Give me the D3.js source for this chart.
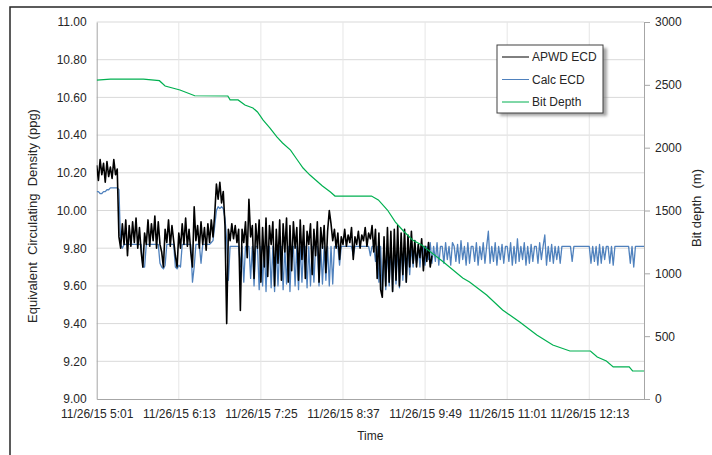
<!DOCTYPE html>
<html><head><meta charset="utf-8">
<script src="https://cdn.jsdelivr.net/npm/d3@7"></script>
<style>
body{margin:0;background:#fff;}
text{font-family:"Liberation Sans",Arial,sans-serif;}
</style>
</head><body>
<svg id="c" width="712" height="455"></svg>
<script>
// ---------------- DATA ----------------
// x-axis tick labels (every 72 minutes from 5:01)
const timeTickLabels = ["11/26/15 5:01","11/26/15 6:13","11/26/15 7:25","11/26/15 8:37","11/26/15 9:49","11/26/15 11:01","11/26/15 12:13"];
const ecdTicks = [9.00,9.20,9.40,9.60,9.80,10.00,10.20,10.40,10.60,10.80,11.00];
const depthTicks = [0,500,1000,1500,2000,2500,3000];
const seriesNames = ["APWD ECD","Calc ECD","Bit Depth"];

// APWD ECD (ppg), one sample every 1.5 min starting 5:01
const apwdEcd = [
10.24,10.16,10.27,10.19,10.25,10.15,10.26,10.18,10.23,10.17,10.27,10.19,10.22,
9.86,
9.80,9.93,9.82,9.95,9.76,9.92,9.81,9.94,9.83,9.96,
9.80,9.91,9.78,9.70,9.88,9.82,9.95,9.81,9.93,9.84,
9.97,9.80,9.94,9.82,9.78,9.70,9.90,9.83,9.95,9.81,
9.92,9.84,9.76,9.70,9.88,9.80,9.93,9.82,9.96,9.81,
9.90,9.78,9.70,10.02,9.84,9.92,9.80,9.94,9.82,9.91,
9.79,9.93,9.83,9.95,9.86,
9.98,10.14,10.06,10.15,10.04,10.10,9.92,9.40,9.90,9.84,9.93,9.85,9.92,9.83,9.90,9.47,
9.90,9.83,9.94,9.75,10.06,9.86,9.92,9.64,9.93,9.80,
9.95,9.62,9.91,9.70,9.96,9.65,9.92,9.82,9.94,9.60,
9.90,9.72,9.95,9.63,9.93,9.78,9.96,9.62,9.92,9.68,
9.94,9.80,9.91,9.63,9.95,9.74,9.92,9.64,9.89,9.82,
9.93,9.66,9.90,9.76,9.94,9.62,9.91,9.80,9.92,9.67,
9.89,10.00,9.93,
9.84,9.90,9.80,9.88,9.74,9.86,9.82,9.90,9.81,9.87,
9.83,9.91,9.74,9.86,9.82,9.89,9.80,9.87,9.84,9.91,
9.81,9.88,9.85,9.92,
9.78,9.90,9.64,9.88,9.58,9.54,9.86,9.60,9.91,9.62,
9.89,9.57,9.90,9.63,9.92,9.60,9.88,9.66,9.90,9.62,
9.87,9.70,9.89,
9.72,9.84,9.70,9.82,9.75,9.85,9.68,9.81,9.73,9.83,9.70,9.76
];

// Calc ECD (ppg), one sample every 1.5 min starting 5:01
const calcEcd = [
10.10,10.10,10.09,10.09,10.10,10.10,10.11,10.11,10.12,10.12,10.12,10.12,10.12,10.11,
9.82,9.80,9.82,9.82,9.82,9.82,9.82,9.82,9.82,9.82,9.82,9.82,9.82,9.70,9.70,
9.82,9.82,9.82,9.82,9.82,9.82,9.82,9.82,9.72,9.70,9.69,9.71,
9.82,9.82,9.82,9.82,9.82,9.70,9.69,9.71,9.70,
9.82,9.82,9.82,9.82,9.82,9.82,9.62,9.70,9.82,9.82,9.82,9.72,
9.82,9.82,9.82,9.82,9.82,
9.83,9.84,9.92,10.00,10.02,10.01,10.02,10.01,9.96,9.84,9.63,
9.81,9.81,9.81,9.81,9.81,9.81,9.70,9.81,9.62,9.81,9.81,9.81,9.64,9.81,9.60,9.81,9.81,
9.58,9.81,9.60,9.81,9.57,9.81,9.81,9.59,9.81,9.57,9.81,9.60,9.81,9.81,9.58,9.81,9.61,
9.81,9.57,9.81,9.81,9.60,9.81,9.58,9.81,9.62,9.81,9.81,9.59,9.81,9.60,9.81,9.62,9.81,
9.81,9.60,9.81,9.61,9.81,9.63,9.81,9.60,9.81,
9.61,9.81,9.81,9.81,9.71,9.81,9.81,9.81,9.81,9.81,9.81,9.81,9.76,9.81,9.81,9.81,9.81,
9.81,9.81,9.81,9.81,9.81,9.76,9.81,
9.81,9.73,9.81,9.62,9.81,9.56,9.81,9.58,9.81,9.60,9.81,9.57,9.81,9.61,9.81,9.59,9.81,
9.63,9.81,9.62,9.81,9.66,9.81,9.70,9.81,9.72,9.81,9.70,9.81,
9.81,9.71,9.81,9.74,9.83,9.72,9.81,9.73,9.83,9.71,
9.81,9.81,9.72,9.83,9.74,9.81,9.71,9.83,9.81,9.73,
9.82,9.72,9.84,9.74,9.81,9.71,9.83,9.72,9.81,9.81,
9.73,9.83,9.71,9.81,9.74,9.83,9.72,9.81,9.89,9.72,
9.81,9.73,9.83,9.71,9.81,9.74,9.82,9.72,9.81,9.81,
9.73,9.83,9.71,9.81,9.72,9.85,9.73,9.81,9.74,9.83,
9.71,9.81,9.72,9.82,9.73,9.81,9.81,9.72,9.83,9.74,
9.81,9.87,9.71,9.81,9.73,9.82,9.72,9.81,9.74,9.81,
9.72,9.81,
9.81,9.81,9.81,9.81,9.81,
9.73,
9.81,9.81,9.81,9.81,9.81,9.81,9.81,9.81,9.81,9.81,
9.72,9.81,9.73,9.81,9.71,9.82,9.72,9.81,9.74,9.81,
9.81,9.72,9.81,9.71,9.81,
9.81,9.81,9.81,9.81,9.81,9.81,9.81,9.81,
9.72,9.81,9.70,9.81,
9.81,9.81,9.81,9.81,9.81
];

// Bit depth (m) at minutes after 5:01
const bitDepthMinutes = [0,12,41,55,60,73,86,115,117,124,130,137,141,146,152,158,163,170,176,181,187,193,198,205,209,241,247,255,262,269,277,285,303,321,327,342,356,371,386,400,415,433,439,447,453,467,470,480];
const bitDepth = [2538,2546,2546,2533,2491,2459,2413,2411,2380,2380,2339,2316,2284,2220,2156,2085,2037,1981,1902,1838,1782,1735,1695,1647,1615,1615,1584,1504,1408,1337,1265,1225,1098,963,931,828,708,613,509,430,382,382,334,302,255,255,223,223];

const sampleMinutes = 1.5;
const startTime = new Date(2015,10,26,5,1);
const endTime = new Date(2015,10,26,13,1);
const tickStepMinutes = 72;

// ---------------- DRAW ----------------
const svg = d3.select("#c");
const M = {l:96.7, r:644, t:22, b:399};
const addMin = m => new Date(startTime.getTime() + m*60000);

const x = d3.scaleTime().domain([startTime, endTime]).range([M.l, M.r]);
const yL = d3.scaleLinear().domain([9, 11]).range([M.b, M.t]);
const yR = d3.scaleLinear().domain([0, 3000]).range([M.b, M.t]);
const tickTimes = timeTickLabels.map((d,i)=>addMin(i*tickStepMinutes));

// outer border
svg.append("rect").attr("x",10).attr("y",7).attr("width",720).attr("height",470)
  .attr("fill","#fff").attr("stroke","#262626").attr("stroke-width",1.5);

// gridlines
const grid = svg.append("g");
grid.selectAll("line.h").data(ecdTicks.slice(1)).join("line")
  .attr("x1",M.l).attr("x2",M.r).attr("y1",d=>yL(d)).attr("y2",d=>yL(d))
  .attr("stroke","#d9d9d9").attr("stroke-width",1);
grid.selectAll("line.v").data(tickTimes.slice(1)).join("line")
  .attr("x1",d=>x(d)).attr("x2",d=>x(d)).attr("y1",M.t).attr("y2",M.b)
  .attr("stroke","#e6e6e6").attr("stroke-width",1);

// axes
const fontColor = "#262626";
const axL = svg.append("g").attr("transform",`translate(${M.l},0)`)
  .call(d3.axisLeft(yL).tickValues(ecdTicks).tickFormat(d3.format(".2f")).tickSize(0).tickPadding(10));
const axR = svg.append("g").attr("transform",`translate(${M.r},0)`)
  .call(d3.axisRight(yR).tickValues(depthTicks).tickFormat(d3.format("d")).tickSize(6).tickPadding(5));
const axB = svg.append("g").attr("transform",`translate(0,${M.b})`)
  .call(d3.axisBottom(x).tickValues(tickTimes).tickFormat((d,i)=>timeTickLabels[i]).tickSize(0).tickPadding(10));
[axL,axR,axB].forEach(a=>{
  a.select(".domain").attr("stroke","#a6a6a6");
  a.selectAll(".tick line").attr("stroke","#a6a6a6");
  a.selectAll("text").attr("font-size",12).attr("fill",fontColor).attr("font-family","Liberation Sans, Arial, sans-serif");
});

// clip
svg.append("clipPath").attr("id","pc").append("rect")
  .attr("x",M.l).attr("y",M.t).attr("width",M.r-M.l).attr("height",M.b-M.t);
const plot = svg.append("g").attr("clip-path","url(#pc)");

const colors = {apwd:"#000000", calc:"#4f81bd", depth:"#00b050"};

const lineL = d3.line().x(d=>x(d.t)).y(d=>yL(d.v));
const lineR = d3.line().x(d=>x(d.t)).y(d=>yR(d.v));

const apwdPts = apwdEcd.map((v,i)=>({t:addMin(i*sampleMinutes), v}));
const calcPts = calcEcd.map((v,i)=>({t:addMin(i*sampleMinutes), v}));
const depthPts = bitDepth.map((v,i)=>({t:addMin(bitDepthMinutes[i]), v}));

plot.append("path").attr("d",lineL(calcPts)).attr("fill","none")
  .attr("stroke",colors.calc).attr("stroke-width",1.3).attr("stroke-linejoin","round");
plot.append("path").attr("d",lineL(apwdPts)).attr("fill","none")
  .attr("stroke",colors.apwd).attr("stroke-width",1.6).attr("stroke-linejoin","round");
plot.append("path").attr("d",lineR(depthPts)).attr("fill","none")
  .attr("stroke",colors.depth).attr("stroke-width",1.2);

// axis titles
svg.append("text").attr("transform",`translate(37,216) rotate(-90)`)
  .attr("text-anchor","middle").attr("font-size",13).attr("fill",fontColor)
  .style("white-space","pre").text("Equivalent  Circulating  Density (ppg)");
svg.append("text").attr("transform",`translate(701,208) rotate(-90)`)
  .attr("text-anchor","middle").attr("font-size",13).attr("fill",fontColor)
  .style("white-space","pre").text("Bit depth  (m)");
svg.append("text").attr("x",(M.l+M.r)/2).attr("y",440)
  .attr("text-anchor","middle").attr("font-size",12).attr("fill",fontColor).text("Time");

// legend
const defs = svg.append("defs");
const f = defs.append("filter").attr("id","sh").attr("x","-20%").attr("y","-20%").attr("width","150%").attr("height","150%");
f.append("feGaussianBlur").attr("stdDeviation",1.5);
const lg = svg.append("g");
lg.append("rect").attr("x",500).attr("y",48).attr("width",107).attr("height",68)
  .attr("fill","#808080").attr("opacity",0.7).attr("filter","url(#sh)");
lg.append("rect").attr("x",497).attr("y",45).attr("width",106).attr("height",68)
  .attr("fill","#fff").attr("stroke","#404040").attr("stroke-width",1);
const lc = [colors.apwd, colors.calc, colors.depth];
seriesNames.forEach((n,i)=>{
  const yy = 57 + i*22.5;
  lg.append("line").attr("x1",502).attr("x2",529).attr("y1",yy).attr("y2",yy)
    .attr("stroke",lc[i]).attr("stroke-width",1);
  lg.append("text").attr("x",532).attr("y",yy).attr("dy","0.35em")
    .attr("font-size",12).attr("fill",fontColor).text(n);
});
</script>
</body></html>
